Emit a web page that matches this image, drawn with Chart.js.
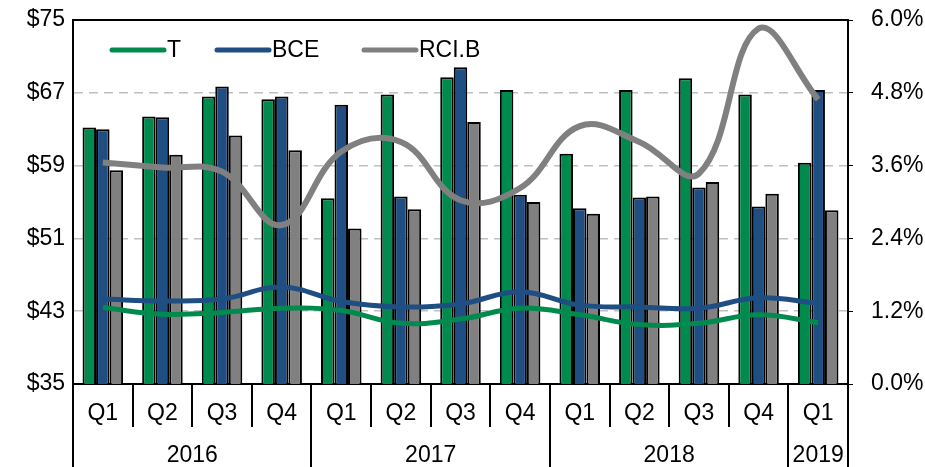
<!DOCTYPE html>
<html lang="en">
<head>
<meta charset="UTF-8">
<title>T BCE RCI.B</title>
<script src="https://cdn.jsdelivr.net/npm/chart.js"></script>
<style>
  html, body { margin: 0; padding: 0; background: #fff; }
  #wrap { width: 925px; height: 467px; }
</style>
</head>
<body>
<div id="wrap"><canvas id="chart" width="925" height="467"></canvas></div>
<script>
// quarters and the years they belong to
const quarters = ['Q1','Q2','Q3','Q4','Q1','Q2','Q3','Q4','Q1','Q2','Q3','Q4','Q1'];
const years = ['2016','2017','2018','2019'];
const yearSpans = [4, 4, 4, 1];

// share price ($), left axis
const priceT   = [63.2, 64.4, 66.6, 66.3, 55.4, 66.8, 68.7, 67.3, 60.3, 67.3, 68.6, 66.8, 59.3];
const priceBCE = [63.0, 64.3, 67.7, 66.6, 65.7, 55.6, 69.8, 55.8, 54.3, 55.5, 56.6, 54.5, 67.3];
const priceRCI = [58.5, 60.2, 62.3, 60.7, 52.1, 54.2, 63.8, 55.0, 53.7, 55.6, 57.2, 55.9, 54.1];

// dividend yield (%), right axis
const yieldT   = [1.26, 1.15, 1.18, 1.25, 1.21, 1.00, 1.07, 1.25, 1.14, 0.98, 1.00, 1.14, 1.01];
const yieldBCE = [1.40, 1.37, 1.40, 1.60, 1.36, 1.27, 1.32, 1.52, 1.30, 1.27, 1.25, 1.42, 1.33];
const yieldRCI = [3.65, 3.57, 3.50, 2.62, 3.83, 3.99, 3.03, 3.23, 4.25, 3.99, 3.47, 5.86, 4.69];

const leftTicks = [35, 43, 51, 59, 67, 75];

const GREEN = '#008a4e';
const BLUE = '#1f4e82';
const GREY = '#808080';
const FONT = 'Liberation Sans, Arial, sans-serif';

// legend drawn inside the plot, only the line series
const insideLegend = {
  id: 'insideLegend',
  afterDraw(chart) {
    const ctx = chart.ctx;
    const items = chart.data.datasets.filter(d => d.type === 'line');
    const starts = [110, 215, 362];
    ctx.save();
    ctx.font = '23px ' + FONT;
    ctx.textBaseline = 'middle';
    items.forEach((d, i) => {
      const x = starts[i];
      ctx.strokeStyle = d.borderColor;
      ctx.lineWidth = 5;
      ctx.lineCap = 'round';
      ctx.beginPath();
      ctx.moveTo(x + 2, 50);
      ctx.lineTo(x + 54, 50);
      ctx.stroke();
      ctx.fillStyle = '#000';
      ctx.fillText(d.label, x + 57, 51);
    });
    ctx.restore();
  }
};

// frame on top and year row under the quarter labels
const frameAndYears = {
  id: 'frameAndYears',
  afterDraw(chart) {
    const ctx = chart.ctx;
    const a = chart.chartArea;
    const x = chart.scales.x;
    const step = x.getPixelForValue(1) - x.getPixelForValue(0);
    const bottom = chart.height;
    ctx.save();
    ctx.strokeStyle = '#000';
    ctx.lineWidth = 2;
    ctx.beginPath();
    ctx.moveTo(a.left, a.top);
    ctx.lineTo(a.right, a.top);
    ctx.stroke();

    ctx.font = '23px ' + FONT;
    ctx.fillStyle = '#000';
    ctx.textAlign = 'center';
    ctx.textBaseline = 'middle';
    let idx = 0;
    const edges = [x.getPixelForValue(0) - step / 2];
    years.forEach((yr, i) => {
      const x0 = x.getPixelForValue(idx) - step / 2;
      idx += yearSpans[i];
      const x1 = x.getPixelForValue(idx - 1) + step / 2;
      edges.push(x1);
      ctx.fillText(yr, (x0 + x1) / 2, 456);
    });
    edges.forEach(e => {
      ctx.beginPath();
      ctx.moveTo(Math.round(e), a.bottom);
      ctx.lineTo(Math.round(e), bottom);
      ctx.stroke();
    });
    ctx.restore();
  }
};

const fitY = w => s => { s.width = w; s.paddingTop = 0; s.paddingBottom = 0; };

new Chart(document.getElementById('chart'), {
  data: {
    labels: quarters,
    datasets: [
      { type: 'line', label: 'T', data: yieldT, yAxisID: 'y1', borderColor: GREEN, borderWidth: 5, pointRadius: 0, tension: 0.4, order: 0 },
      { type: 'line', label: 'BCE', data: yieldBCE, yAxisID: 'y1', borderColor: BLUE, borderWidth: 5, pointRadius: 0, tension: 0.4, order: 0 },
      { type: 'line', label: 'RCI.B', data: yieldRCI, yAxisID: 'y1', borderColor: GREY, borderWidth: 6, pointRadius: 0, tension: 0.4, order: 0 },
      { type: 'bar', label: 'T price', data: priceT, yAxisID: 'y', backgroundColor: GREEN, borderColor: '#000', borderWidth: 2, order: 1 },
      { type: 'bar', label: 'BCE price', data: priceBCE, yAxisID: 'y', backgroundColor: BLUE, borderColor: '#000', borderWidth: 2, order: 1 },
      { type: 'bar', label: 'RCI.B price', data: priceRCI, yAxisID: 'y', backgroundColor: GREY, borderColor: '#000', borderWidth: 2, order: 1 }
    ]
  },
  options: {
    responsive: false,
    animation: false,
    events: [],
    layout: { padding: { top: 20, bottom: 40, left: 0, right: 0 } },
    datasets: { bar: { categoryPercentage: 0.68, barPercentage: 1.0 } },
    plugins: { legend: { display: false }, tooltip: { enabled: false } },
    scales: {
      x: {
        offset: true,
        grid: { offset: true, drawOnChartArea: false, drawTicks: true, tickLength: 43, color: '#000', lineWidth: 2 },
        border: { display: true, color: '#000', width: 2 },
        ticks: { font: { family: FONT, size: 23 }, color: '#000', padding: -27, maxRotation: 0 },
        afterFit: s => { s.height = 43; s.paddingLeft = 0; s.paddingRight = 0; }
      },
      y: {
        position: 'left',
        min: 35, max: 75,
        afterBuildTicks: s => { s.ticks = leftTicks.map(v => ({ value: v })); },
        ticks: { font: { family: FONT, size: 23 }, color: '#000', padding: 8, callback: v => '$' + v },
        grid: {
          color: c => (c.tick.value === 35 || c.tick.value === 75) ? 'rgba(0,0,0,0)' : '#c0c0c0',
          lineWidth: 1.5, drawTicks: false
        },
        border: { display: true, color: '#000', width: 2, dash: [9, 6] },
        afterFit: fitY(73)
      },
      y1: {
        position: 'right',
        min: 0, max: 6,
        ticks: { stepSize: 1.2, font: { family: FONT, size: 23 }, color: '#000', padding: 18, callback: v => v.toFixed(1) + '%' },
        grid: { drawOnChartArea: false, drawTicks: true, tickLength: 5, color: '#000' },
        border: { display: true, color: '#000', width: 2 },
        afterFit: fitY(77)
      }
    }
  },
  plugins: [insideLegend, frameAndYears]
});
</script>
</body>
</html>
